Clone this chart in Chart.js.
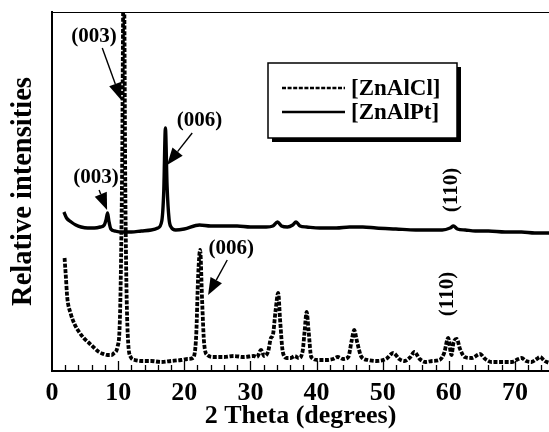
<!DOCTYPE html>
<html>
<head>
<meta charset="utf-8">
<script src="https://cdn.jsdelivr.net/npm/chart.js@4.4.1/dist/chart.umd.min.js"></script>
<style>
  html, body { margin: 0; padding: 0; background: #fff; }
  #wrap { width: 549px; height: 432px; }
</style>
</head>
<body>
<div id="wrap"><canvas id="xrd" width="549" height="432"></canvas></div>
<script>
// 2 theta positions and relative intensities
const clTheta = [1.9, 2.1, 2.3, 2.8, 3.4, 4.1, 4.8, 5.6, 6.4, 7.1, 7.8, 8.4, 9.0, 9.4, 9.9, 10.3, 10.6, 10.85, 11.1, 11.4, 11.9, 12.5, 13.5, 15, 16.5, 18, 19.5, 20.5, 21.3, 21.8, 22.1, 22.4, 22.7, 23.0, 23.5, 24.5, 26, 27.5, 29, 30.5, 31.0, 31.6, 32.1, 32.7, 33.1, 33.4, 33.8, 34.2, 34.5, 34.9, 35.5, 36.1, 36.7, 37.3, 37.9, 38.2, 38.5, 38.8, 39.2, 40.2, 41.5, 42.5, 43.2, 44.0, 44.8, 45.3, 45.7, 46.1, 46.8, 47.8, 49, 50.5, 51.6, 52.5, 53.3, 54.2, 54.8, 55.6, 56.5, 57.5, 58.6, 59.3, 59.9, 60.4, 60.7, 61.2, 61.7, 62.4, 63.5, 64.7, 65.5, 66.5, 68, 69.5, 70.5, 71, 71.7, 72.5, 73.3, 73.8, 74.5, 75.2];
const clIntensity = [113, 94, 74, 58, 47, 39, 33, 28, 23, 19, 17, 16, 16, 18, 24, 60, 200, 420, 170, 45, 14, 11, 10, 10, 9, 10, 11, 12, 13, 35, 95, 121, 70, 28, 16, 14, 14, 15, 14, 15, 14, 21, 15, 20, 33, 36, 60, 78, 50, 19, 13, 13, 15, 13, 20, 40, 59, 40, 14, 11, 11, 12, 14, 12, 14, 30, 41, 30, 14, 11, 10, 12, 18, 12, 10, 14, 19, 12, 9, 10, 11, 18, 33, 16, 28, 32, 22, 14, 13, 17, 12, 9, 9, 9, 12, 13, 10, 9, 12, 14, 10, 8];

const ptTheta = [1.8, 2.2, 2.9, 3.6, 4.4, 5.4, 6.4, 7.3, 7.9, 8.2, 8.4, 8.6, 8.9, 9.5, 10.5, 12, 13.5, 15, 16.0, 16.6, 16.9, 17.15, 17.4, 17.7, 18, 18.7, 20, 22.3, 24, 26, 28, 30, 32.4, 33.4, 34.1, 34.7, 35.6, 36.4, 36.9, 37.5, 38.5, 40.5, 43, 45, 47, 49, 52, 55, 57, 59, 60.2, 60.7, 61.3, 62.5, 64, 66, 68.5, 71, 73, 75.2];
const ptIntensity = [159, 153, 149, 146, 144, 143, 143, 144, 146, 152, 158, 150, 142, 140, 139, 139, 140, 141, 143, 150, 180, 243, 185, 152, 144, 141, 142, 146, 145, 145, 145, 144, 144, 145, 149, 145, 144, 146, 149, 145, 144, 143, 143, 144, 144, 143, 142, 141, 141, 141, 143, 145, 142, 141, 140, 140, 139, 139, 138, 138];

const seriesNames = ['[ZnAlCl]', '[ZnAlPt]'];

// reflection labels and arrows, in data units
const noteText = ['(003)', '(003)', '(006)', '(006)', '(110)', '(110)'];
const noteX = [6.36, 6.67, 22.3, 27.1, 60.45, 59.85];
const noteY = [334, 193, 250, 122, 181, 77];
const noteRot = [0, 0, 0, 0, -90, -90];

const arrowFrom = [[7.6, 323], [7.12, 181], [21.2, 238], [26.5, 111]];
const arrowTo = [[10.45, 271], [8.33, 161], [17.4, 206], [23.6, 76]];

const serif = "'Liberation Serif', 'Times New Roman', serif";

function pts(xs, ys) {
  return xs.map((x, i) => ({ x: x, y: ys[i] }));
}

function arrow(ctx, x0, y0, x1, y1) {
  const ang = Math.atan2(y1 - y0, x1 - x0);
  const len = 17, half = 6.5;
  const bx = x1 - len * Math.cos(ang), by = y1 - len * Math.sin(ang);
  ctx.beginPath();
  ctx.moveTo(x0, y0);
  ctx.lineTo(bx, by);
  ctx.stroke();
  ctx.beginPath();
  ctx.moveTo(x1, y1);
  ctx.lineTo(bx + half * Math.sin(ang), by - half * Math.cos(ang));
  ctx.lineTo(bx - half * Math.sin(ang), by + half * Math.cos(ang));
  ctx.closePath();
  ctx.fill();
}

const decor = {
  id: 'decor',
  afterDraw(chart) {
    const ctx = chart.ctx;
    const ca = chart.chartArea;
    const xs = chart.scales.x, ys = chart.scales.y;
    ctx.save();
    ctx.strokeStyle = '#000';
    ctx.fillStyle = '#000';

    // frame top
    ctx.lineWidth = 1;
    ctx.beginPath();
    ctx.moveTo(ca.left, ca.top + 0.5);
    ctx.lineTo(ca.right, ca.top + 0.5);
    ctx.stroke();

    // inward ticks every 2 degrees
    ctx.lineWidth = 1.3;
    for (let v = 2; v < xs.max; v += 2) {
      const px = Math.round(xs.getPixelForValue(v)) + 0.5;
      const h = v % 10 === 0 ? 10 : 6;
      ctx.beginPath();
      ctx.moveTo(px, ca.bottom);
      ctx.lineTo(px, ca.bottom - h);
      ctx.stroke();
    }

    // arrows
    ctx.lineWidth = 1.4;
    arrowFrom.forEach((a, i) => {
      const b = arrowTo[i];
      arrow(ctx, xs.getPixelForValue(a[0]), ys.getPixelForValue(a[1]),
        xs.getPixelForValue(b[0]), ys.getPixelForValue(b[1]));
    });

    // reflection labels
    ctx.font = 'bold 21px ' + serif;
    ctx.textAlign = 'center';
    ctx.textBaseline = 'middle';
    noteText.forEach((t, i) => {
      ctx.save();
      ctx.translate(xs.getPixelForValue(noteX[i]), ys.getPixelForValue(noteY[i]));
      ctx.rotate(noteRot[i] * Math.PI / 180);
      ctx.fillText(t, 0, 0);
      ctx.restore();
    });

    // legend box with drop shadow
    const lx = ca.left + 216, ly = ca.top + 51, lw = 189, lh = 75;
    ctx.fillRect(lx + 4, ly + 4, lw, lh);
    ctx.fillStyle = '#fff';
    ctx.fillRect(lx, ly, lw, lh);
    ctx.fillStyle = '#000';
    ctx.lineWidth = 1.5;
    ctx.strokeRect(lx, ly, lw, lh);

    ctx.font = 'bold 23px ' + serif;
    ctx.textAlign = 'left';
    chart.data.datasets.forEach((ds, i) => {
      const yy = ly + 25 + i * 24;
      ctx.lineWidth = 2.5;
      ctx.setLineDash(ds.borderDash || []);
      ctx.beginPath();
      ctx.moveTo(lx + 14, yy);
      ctx.lineTo(lx + 77, yy);
      ctx.stroke();
      ctx.setLineDash([]);
      ctx.fillText(seriesNames[i], lx + 83, yy + 1);
    });
    ctx.restore();
  }
};

new Chart(document.getElementById('xrd'), {
  type: 'line',
  data: {
    datasets: [
      {
        label: seriesNames[0],
        data: pts(clTheta, clIntensity),
        borderColor: '#000',
        borderWidth: 3.8,
        borderDash: [4, 1.6],
        pointRadius: 0,
        cubicInterpolationMode: 'monotone',
        fill: false
      },
      {
        label: seriesNames[1],
        data: pts(ptTheta, ptIntensity),
        borderColor: '#000',
        borderWidth: 3.4,
        pointRadius: 0,
        cubicInterpolationMode: 'monotone',
        fill: false
      }
    ]
  },
  options: {
    responsive: false,
    animation: false,
    devicePixelRatio: 1,
    layout: { padding: { top: 12, right: 0, left: 0, bottom: 0 } },
    plugins: {
      legend: { display: false },
      tooltip: { enabled: false }
    },
    scales: {
      x: {
        type: 'linear',
        min: 0,
        max: 75.15,
        afterFit: s => { s.height = 61; },
        grid: { display: false, drawTicks: false },
        border: { display: true, color: '#000', width: 2 },
        ticks: {
          stepSize: 10,
          includeBounds: false,
          color: '#000',
          padding: 7,
          maxRotation: 0,
          font: { family: serif, size: 26, weight: 'bold' }
        },
        title: {
          display: true,
          text: '2 Theta (degrees)',
          color: '#000',
          padding: { top: 0, bottom: 0 },
          font: { family: serif, size: 26, weight: 'bold' }
        }
      },
      y: {
        min: 0,
        max: 359,
        afterFit: s => { s.width = 52; },
        grid: { display: false, drawTicks: false },
        border: { display: true, color: '#000', width: 2 },
        ticks: { display: false },
        title: {
          display: true,
          text: 'Relative intensities',
          color: '#000',
          padding: { top: 7, bottom: 0 },
          font: { family: serif, size: 28.5, weight: 'bold' }
        }
      }
    }
  },
  plugins: [decor]
});
</script>
</body>
</html>
